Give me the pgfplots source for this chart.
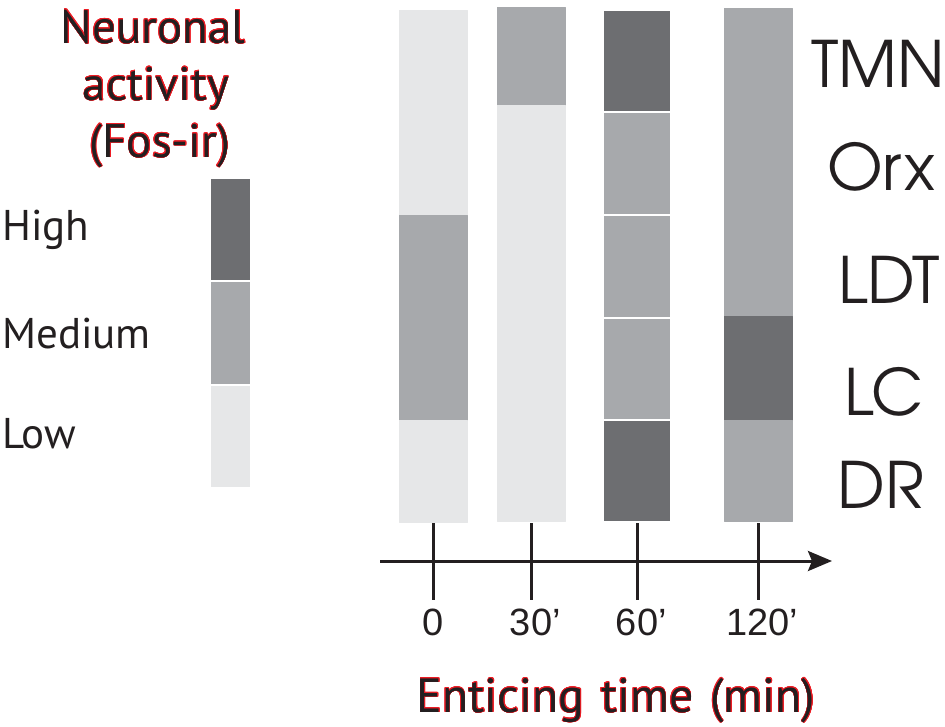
\documentclass[border=0pt]{standalone}
\usepackage{pgfplots}
\usepackage{pgfplotstable}
\pgfplotsset{compat=1.18}
\usetikzlibrary{arrows.meta}
\usepackage{fontspec}
\usepackage{contour}
\setmainfont{PT Sans}
\newfontfamily\arialf{Liberation Sans}
\newfontfamily\advf{texgyreadventor-regular.otf}
\definecolor{txtdark}{HTML}{231F20}
\definecolor{txtred}{HTML}{ED1C24}
\contourlength{0.55pt}
\newcommand{\redtxt}[1]{\contour{txtred}{\textcolor{txtdark}{#1}}}

% segments: 4 corners per rectangle, c = Fos level (1 low, 2 medium, 3 high)
\pgfplotstableread{
x y c
399 10 1
467 10 1
467 215 1
399 215 1
399 215 2
467 215 2
467 420 2
399 420 2
399 420 1
467 420 1
467 522 1
399 522 1
497 7 2
565 7 2
565 105 2
497 105 2
497 105 1
565 105 1
565 521 1
497 521 1
724 8 2
792 8 2
792 316 2
724 316 2
724 316 3
792 316 3
792 420 3
724 420 3
724 420 2
792 420 2
792 521 2
724 521 2
}\plainbars

\pgfplotstableread{
x y c
603 10 3
671 10 3
671 112 3
603 112 3
603 112 2
671 112 2
671 215 2
603 215 2
603 215 2
671 215 2
671 318 2
603 318 2
603 318 2
671 318 2
671 420 2
603 420 2
603 420 3
671 420 3
671 522 3
603 522 3
210 178 3
251 178 3
251 281 3
210 281 3
210 281 2
251 281 2
251 385 2
210 385 2
210 385 1
251 385 1
251 488 1
210 488 1
}\splitbars

\begin{document}
\begin{tikzpicture}
\useasboundingbox (0,0) rectangle (945pt,726pt);
\begin{axis}[
  at={(0,0)}, anchor=south west,
  scale only axis, width=945pt, height=726pt,
  xmin=0, xmax=945, ymin=0, ymax=726,
  y dir=reverse, hide axis, clip=false,
  colormap={fos}{rgb255(1)=(230,231,232) rgb255(2)=(167,169,172) rgb255(3)=(109,110,113)},
  point meta min=1, point meta max=3,
]
\addplot[patch, patch type=rectangle, shader=flat, point meta=explicit]
  table[meta=c] {\plainbars};
\addplot[patch, patch type=rectangle, shader=faceted, faceted color=white,
  line width=1.2pt, point meta=explicit]
  table[meta=c] {\splitbars};

% time axis
\draw[txtdark, line width=3pt, -{Stealth[length=24pt, width=20pt, inset=4pt]}]
  (axis cs:380,561) -- (axis cs:832,561);
\pgfplotsinvokeforeach{433,531,637,758}{
  \draw[txtdark, line width=3pt] (axis cs:#1,523) -- (axis cs:#1,600);
}
\node[anchor=base, font=\arialf\fontsize{38}{40}\selectfont, text=txtdark] at (axis cs:433,635) {0};
\node[anchor=base, font=\arialf\fontsize{38}{40}\selectfont, text=txtdark] at (axis cs:531,635) {30\rlap{’}};
\node[anchor=base, font=\arialf\fontsize{38}{40}\selectfont, text=txtdark] at (axis cs:637,635) {60\rlap{’}};
\node[anchor=base, font=\arialf\fontsize{38}{40}\selectfont, text=txtdark] at (axis cs:758,635) {120\rlap{’}};
\node[anchor=base, font=\fontsize{48}{50}\selectfont] at (axis cs:616,712)
  {\redtxt{Enticing}\hspace{0.35em}\redtxt{time}\hspace{0.35em}\redtxt{(min)}};

% region labels
\node[anchor=base, font=\advf\fontsize{64}{70}\selectfont, text=txtdark] at (axis cs:878,87) {TMN};
\node[anchor=base, font=\advf\fontsize{64}{70}\selectfont, text=txtdark] at (axis cs:881,190) {Orx};
\node[anchor=base, font=\advf\fontsize{64}{70}\selectfont, text=txtdark] at (axis cs:889,303) {LDT};
\node[anchor=base, font=\advf\fontsize{64}{70}\selectfont, text=txtdark] at (axis cs:884,415) {LC};
\node[anchor=base, font=\advf\fontsize{64}{70}\selectfont, text=txtdark] at (axis cs:881,508) {DR};

% legend
\node[anchor=base, font=\fontsize{47}{50}\selectfont] at (axis cs:153,43) {\redtxt{Neuronal}};
\node[anchor=base, font=\fontsize{47}{50}\selectfont] at (axis cs:156,100) {\redtxt{activity}};
\node[anchor=base, font=\fontsize{47}{50}\selectfont] at (axis cs:160,157) {\redtxt{(Fos-ir)}};
\node[anchor=base west, inner sep=0pt, font=\fontsize{43}{46}\selectfont, text=txtdark] at (axis cs:2,240) {High};
\node[anchor=base west, inner sep=0pt, font=\fontsize{43}{46}\selectfont, text=txtdark] at (axis cs:2,348) {Medium};
\node[anchor=base west, inner sep=0pt, font=\fontsize{43}{46}\selectfont, text=txtdark] at (axis cs:2,448) {Low};
\end{axis}
\end{tikzpicture}
\end{document}
